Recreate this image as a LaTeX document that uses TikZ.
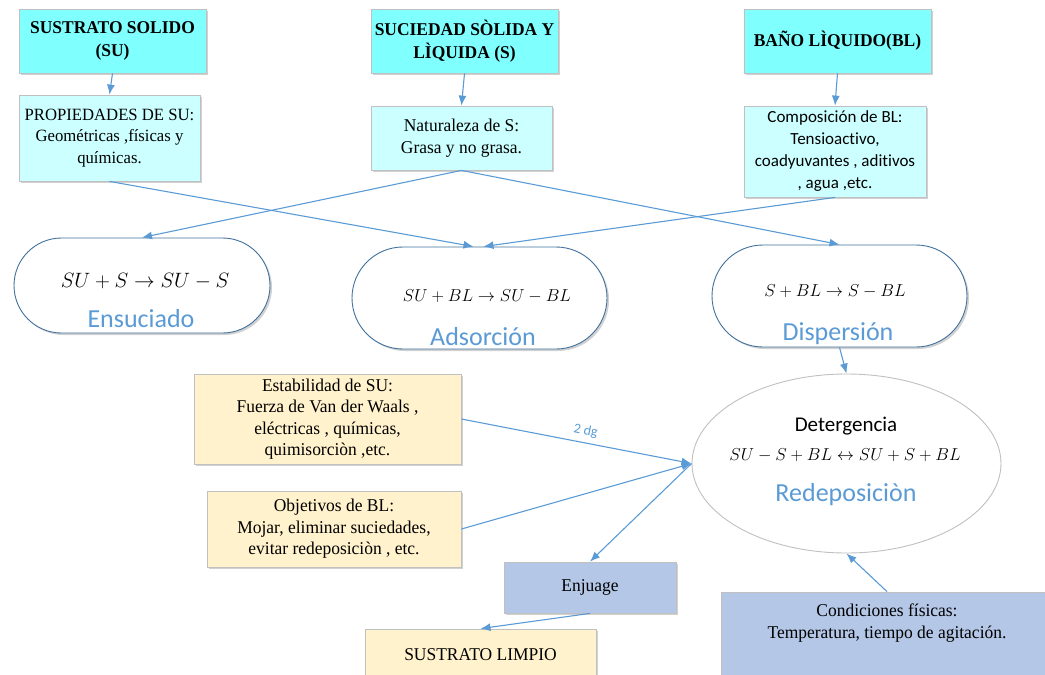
\documentclass[tikz,border=0pt]{standalone}
\usepackage{fontspec}
\setmainfont{Liberation Serif}[FakeStretch=0.97]
\newfontfamily\calibri{Carlito}[RawFeature={-liga;-clig;-calt;-dlig}]
\usetikzlibrary{shapes.geometric,shapes.misc,arrows.meta,shadows,calc}

\definecolor{cyantop}{RGB}{128,255,255}
\definecolor{cyanlite}{RGB}{204,255,255}
\definecolor{ylw}{RGB}{255,242,204}
\definecolor{bluebox}{RGB}{180,199,231}
\definecolor{boxline}{RGB}{192,192,192}
\definecolor{pillline}{RGB}{65,113,156}
\definecolor{lblue}{RGB}{91,155,213}
\definecolor{arrowc}{RGB}{91,155,213}

\begin{document}
\begin{tikzpicture}[x=1pt,y=-1pt,
  softshadow/.style={drop shadow={shadow xshift=2pt,shadow yshift=-2pt,opacity=0.18,fill=black}},
  box/.style={draw=boxline,line width=0.8pt,inner sep=0pt,align=center,softshadow},
  hdr/.style={box,fill=cyantop,font=\fontsize{18}{23}\selectfont\bfseries},
  sub/.style={box,fill=cyanlite,font=\fontsize{18}{21.5}\selectfont},
  ybox/.style={box,fill=ylw,font=\fontsize{18}{21.5}\selectfont},
  bbox/.style={box,fill=bluebox,font=\fontsize{18}{21.5}\selectfont},
  pill/.style={rounded rectangle,draw=pillline,line width=0.9pt,fill=white,inner sep=0pt,softshadow},
  eq/.style={inner sep=0pt,font=\fontsize{16}{19}\selectfont},
  lbl/.style={inner sep=0pt,text=lblue,font=\calibri\fontsize{26}{30}\selectfont},
  arr/.style={draw=arrowc,line width=1.1pt,-{Latex[length=10pt,width=8pt]}}
]
\useasboundingbox (0,0) rectangle (1045,675);

% top row: the three ingredients
\node[hdr,minimum width=187,minimum height=64] (su) at (112.5,41) {SUSTRATO SOLIDO\\(SU)};
\node[hdr,minimum width=187,minimum height=64] (s)  at (464.5,41) {SUCIEDAD SÒLIDA Y\\LÌQUIDA (S)};
\node[hdr,minimum width=187,minimum height=64] (bl) at (837.5,41) {BAÑO LÌQUIDO(BL)};

% second row: their properties
\node[sub,minimum width=181,minimum height=86,font=\fontsize{17.2}{21.5}\selectfont] (prop) at (109.5,138)
  {PROPIEDADES DE SU:\\Geométricas ,físicas y\\químicas.};
\node[sub,minimum width=181,minimum height=64] (nat) at (461.5,138)
  {Naturaleza de S:\\Grasa y no grasa.};
\node[sub,minimum width=182,minimum height=91,font=\calibri\fontsize{17}{22}\selectfont] (comp) at (835,151.5)
  {Composición de BL:\\Tensioactivo,\\coadyuvantes , aditivos\\, agua ,etc.};

% processes
\node[pill,minimum width=256,minimum height=95] (ens) at (142,285.5) {};
\node[eq,font=\fontsize{20}{24}\selectfont] (ensM) at (145,281) {$SU+S\rightarrow SU-S$};
\node[lbl] (ensL) at (141,319) {Ensuciado};

\node[pill,minimum width=255,minimum height=102] (ads) at (479.5,298) {};
\node[eq] (adsM) at (487,296) {$SU+BL\rightarrow SU-BL$};
\node[lbl] (adsL) at (483,337) {Adsorción};

\node[pill,minimum width=255,minimum height=102] (disp) at (839.5,296) {};
\node[eq] (dispM) at (835,291) {$S+BL\rightarrow S-BL$};
\node[lbl] (dispL) at (838,334) {Dispersión};

% detergency
\node[ellipse,draw=boxline,line width=0.9pt,fill=white,inner sep=0pt,minimum width=309,minimum height=179] (ell) at (846.5,463.5) {};
\node[inner sep=0pt,font=\calibri\fontsize{21}{25}\selectfont] (detT) at (846,426) {Detergencia};
\node[eq] (detM) at (845,455) {$SU-S+BL\leftrightarrow SU+S+BL$};
\node[lbl] (detL) at (846,495) {Redeposiciòn};

% side conditions
\node[ybox,minimum width=267,minimum height=90] (est) at (327.5,419)
  {Estabilidad de SU:\\Fuerza de Van der Waals ,\\eléctricas , químicas,\\quimisorciòn ,etc.};
\node[ybox,minimum width=254,minimum height=76] (obj) at (334,529)
  {Objetivos de BL:\\Mojar, eliminar suciedades,\\evitar redeposiciòn , etc.};

\node[bbox,minimum width=172,minimum height=51] (enj) at (590,587.5) {Enjuage};
\node[ybox,minimum width=231,minimum height=52] (lim) at (480.5,655) {SUSTRATO LIMPIO};
\node[bbox,minimum width=332,minimum height=96] (cond) at (887,640) {};
\node[inner sep=0pt,align=center,font=\fontsize{18}{21.5}\selectfont] (condT) at (887,623)
  {Condiciones físicas:\\Temperatura, tiempo de agitación.};

% connectors
\draw[arr] (su.south) -- (prop.north);
\draw[arr] (s.south) -- (nat.north);
\draw[arr] (bl.south) -- (comp.north);
\draw[arr] (prop.south) -- ($(ads.north)+(-6,0)$);
\draw[arr] (nat.south) -- (ens.north);
\draw[arr] (nat.south) -- (disp.north);
\draw[arr] (comp.south) -- ($(ads.north)+(4,0)$);
\draw[arr] (disp.south) -- (ell.north);
\draw[arr] (est.east) -- node[pos=0.53,above=5pt,sloped,inner sep=0pt,text=lblue,font=\calibri\fontsize{14}{16}\selectfont] (dg) {2 dg} (ell.west);
\draw[arr] (obj.east) -- (ell.west);
\draw[arr] (ell.west) -- (enj.north);
\draw[arr] (enj.south) -- (lim.north);
\draw[arr] (cond.north) -- (ell.south);
\end{tikzpicture}
\end{document}
